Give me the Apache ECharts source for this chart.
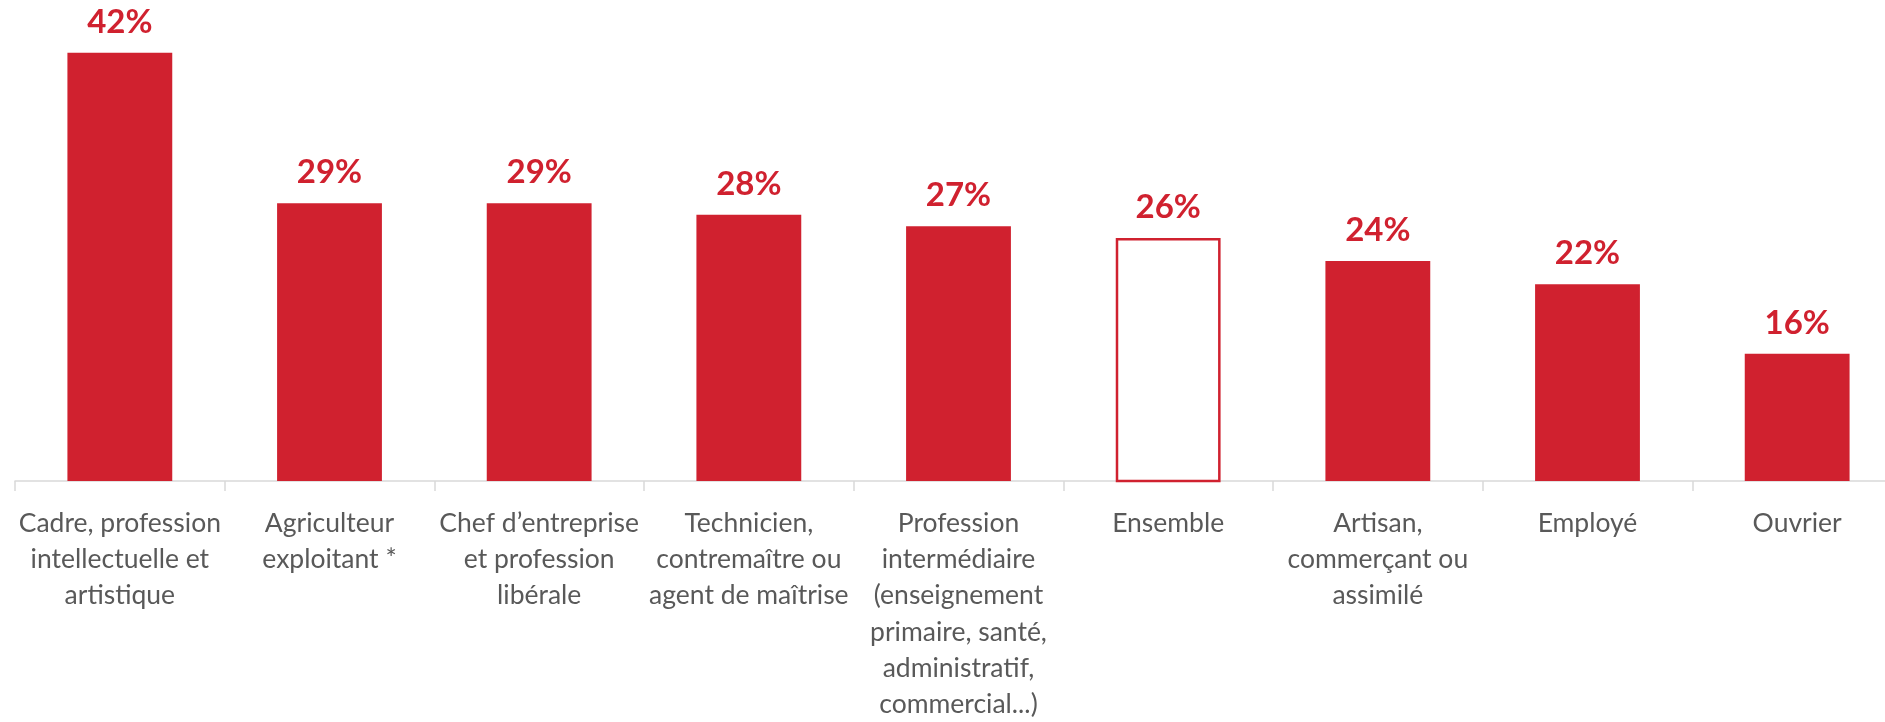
<!DOCTYPE html>
<html>
<head>
<meta charset="utf-8">
<script src="https://cdn.jsdelivr.net/npm/echarts@6/dist/echarts.min.js"></script>
<style>html,body{margin:0;padding:0;background:#fff;overflow:hidden;width:1885px;height:722px}#c{width:1902px;height:722px}</style>
</head>
<body>
<div id="c"></div>
<script>
const categories = [
  "Cadre, profession\nintellectuelle et\nartistique",
  "Agriculteur\nexploitant *",
  "Chef d\u2019entreprise\net profession\nlibérale",
  "Technicien,\ncontremaître ou\nagent de maîtrise",
  "Profession\nintermédiaire\n(enseignement\nprimaire, santé,\nadministratif,\ncommercial...)",
  "Ensemble",
  "Artisan,\ncommerçant ou\nassimilé",
  "Employé",
  "Ouvrier"
];
const values = [42, 29, 29, 28, 27, 26, 24, 22, 16];
const highlightIndex = 5; // "Ensemble" drawn as outline

const RED = '#d0212f';
const chart = echarts.init(document.getElementById('c'), null, {renderer: 'canvas'});
chart.setOption({
  animation: false,
  backgroundColor: '#ffffff',
  grid: {left: 15, top: 18, right: 0, bottom: 241, containLabel: false, outerBoundsMode: 'none'},
  xAxis: {
    type: 'category',
    data: categories,
    axisLine: {show: true, lineStyle: {color: '#d9d9d9', width: 1.5}},
    axisTick: {show: true, length: 10, lineStyle: {color: '#d9d9d9', width: 1.5}},
    axisLabel: {
      color: '#595959', fontFamily: 'Lato', fontSize: 26.5, lineHeight: 36.3,
      margin: 24, interval: 0
    }
  },
  yAxis: {type: 'value', min: 5, max: 45, show: false, splitLine: {show: false}},
  series: [{
    type: 'bar',
    barWidth: '50%',
    data: values.map((v, i) => i === highlightIndex
      ? {value: v, itemStyle: {color: '#ffffff', borderColor: RED, borderWidth: 2.5}}
      : {value: v, itemStyle: {color: RED}}),
    label: {
      show: true, position: 'top', distance: 14,
      formatter: p => p.value + '%',
      color: RED, fontFamily: 'Lato', fontWeight: 'bold', fontSize: 33
    }
  }]
});
</script>
</body>
</html>
